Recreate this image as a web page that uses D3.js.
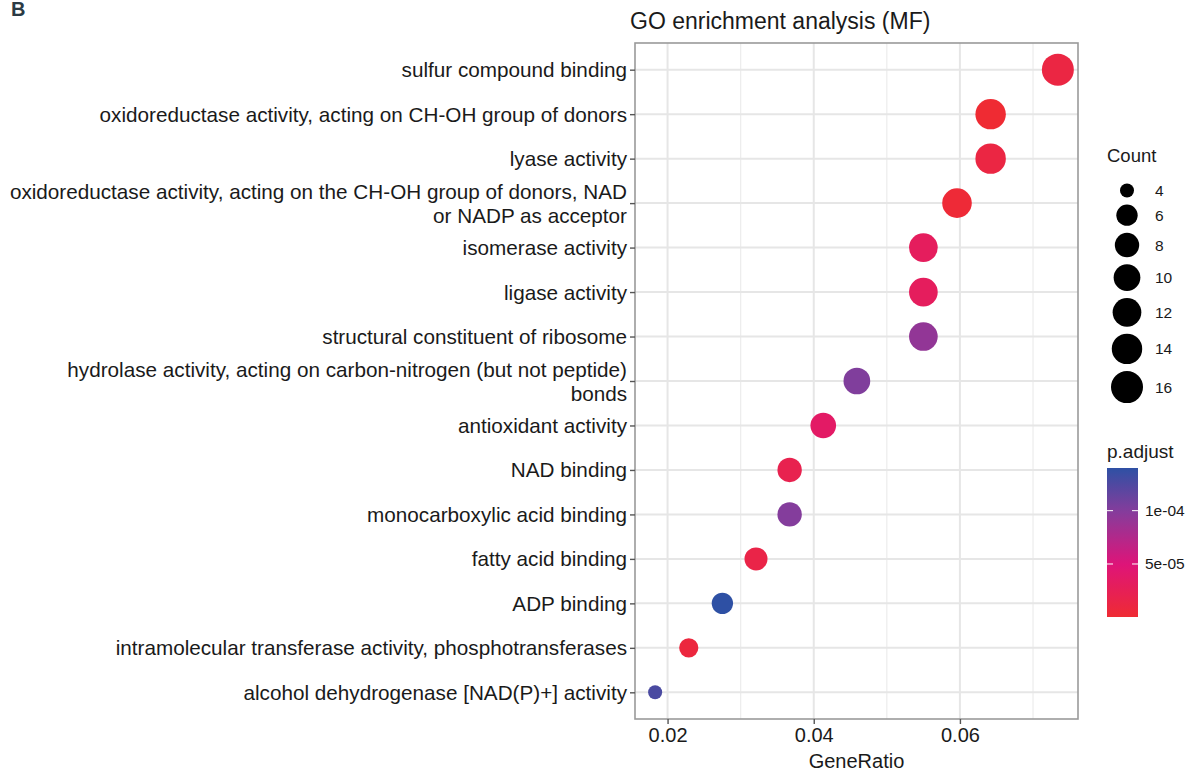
<!DOCTYPE html>
<html>
<head>
<meta charset="utf-8">
<script src="https://cdn.jsdelivr.net/npm/d3@7"></script>
<style>
  body { margin: 0; background: #fff; }
  text { font-family: "Liberation Sans", Arial, sans-serif; }
</style>
</head>
<body>
<svg id="chart" width="1194" height="773"></svg>
<script>
const terms = [
  'sulfur compound binding',
  'oxidoreductase activity, acting on CH-OH group of donors',
  'lyase activity',
  'oxidoreductase activity, acting on the CH-OH group of donors, NAD\nor NADP as acceptor',
  'isomerase activity',
  'ligase activity',
  'structural constituent of ribosome',
  'hydrolase activity, acting on carbon-nitrogen (but not peptide)\nbonds',
  'antioxidant activity',
  'NAD binding',
  'monocarboxylic acid binding',
  'fatty acid binding',
  'ADP binding',
  'intramolecular transferase activity, phosphotransferases',
  'alcohol dehydrogenase [NAD(P)+] activity'
];
const geneRatio = [0.0734, 0.0642, 0.0642, 0.0596, 0.0550, 0.0550, 0.0550, 0.0459, 0.0413, 0.0367, 0.0367, 0.0321, 0.0275, 0.0229, 0.0183];
const counts = [16, 14, 14, 13, 12, 12, 12, 10, 9, 8, 8, 7, 6, 5, 4];
const pAdjust = [1.2e-5, 3e-7, 1.2e-5, 3e-6, 3e-5, 3e-5, 9.2e-5, 1.02e-4, 3.6e-5, 2e-5, 1.0e-4, 1.5e-5, 1.4e-4, 8e-6, 1.27e-4];

const xTicks = [0.02, 0.04, 0.06];
const xMinor = [0.03, 0.05, 0.07];
const countBreaks = [4, 6, 8, 10, 12, 14, 16];
const pBreaks = [5e-5, 1e-4];
const pLabels = ['5e-05', '1e-04'];

const svg = d3.select('#chart');
const panel = {left: 635, right: 1078, top: 43, bottom: 719};

// panel label
svg.append('text')
  .attr('x', 11).attr('y', 16)
  .style('font-size', '20px').style('font-weight', 'bold')
  .style('fill', '#2b3a44')
  .text('B');

// scales
const xExt = d3.extent(geneRatio);
const xPad = (xExt[1] - xExt[0]) * 0.05;
const x = d3.scaleLinear()
  .domain([xExt[0] - xPad, xExt[1] + xPad])
  .range([panel.left, panel.right]);

const y = d3.scalePoint()
  .domain(terms)
  .range([panel.top, panel.bottom])
  .padding(0.6);

const sizeT = d3.scaleLinear().domain([4, 16]).range([0, 1]);
const rLin = d3.scaleLinear().domain([0, 1]).range([7, 16]);
const r = c => rLin(Math.sqrt(sizeT(c)));

const pDomain = [d3.min(pAdjust), d3.max(pAdjust)];
const color = d3.scaleLinear()
  .domain([pDomain[0], 5e-5, 1e-4, pDomain[1]])
  .range(['#ef2b33', '#de1479', '#843d9c', '#2e50a4']);

// grid
const grid = svg.append('g');
grid.selectAll('.minor')
  .data(xMinor)
  .enter().append('line')
  .attr('x1', d => x(d)).attr('x2', d => x(d))
  .attr('y1', panel.top).attr('y2', panel.bottom)
  .attr('stroke', '#ececec').attr('stroke-width', 1.2);
grid.selectAll('.majorx')
  .data(xTicks)
  .enter().append('line')
  .attr('x1', d => x(d)).attr('x2', d => x(d))
  .attr('y1', panel.top).attr('y2', panel.bottom)
  .attr('stroke', '#e6e6e6').attr('stroke-width', 2);
grid.selectAll('.majory')
  .data(terms)
  .enter().append('line')
  .attr('x1', panel.left).attr('x2', panel.right)
  .attr('y1', d => y(d)).attr('y2', d => y(d))
  .attr('stroke', '#e6e6e6').attr('stroke-width', 2);

// points
svg.append('g')
  .selectAll('circle')
  .data(terms)
  .enter().append('circle')
  .attr('cx', (d, i) => x(geneRatio[i]))
  .attr('cy', d => y(d))
  .attr('r', (d, i) => r(counts[i]))
  .attr('fill', (d, i) => color(pAdjust[i]));

// border
svg.append('rect')
  .attr('x', panel.left).attr('y', panel.top)
  .attr('width', panel.right - panel.left)
  .attr('height', panel.bottom - panel.top)
  .attr('fill', 'none')
  .attr('stroke', '#9a9a9a').attr('stroke-width', 1.6);

// x axis
const xAxis = svg.append('g')
  .attr('transform', 'translate(0,' + panel.bottom + ')')
  .call(d3.axisBottom(x).tickValues(xTicks).tickFormat(d3.format('.2f')).tickSize(5).tickPadding(4));
xAxis.select('.domain').remove();
xAxis.selectAll('line').attr('stroke', '#555').attr('stroke-width', 1.4);
xAxis.selectAll('text')
  .style('font-size', '20px').style('fill', '#1a1a1a')
  .attr('font-family', null);

svg.append('text')
  .attr('x', (panel.left + panel.right) / 2)
  .attr('y', 768)
  .attr('text-anchor', 'middle')
  .style('font-size', '20px').style('fill', '#1a1a1a')
  .text('GeneRatio');

// y axis
const yAxis = svg.append('g')
  .attr('transform', 'translate(' + panel.left + ',0)')
  .call(d3.axisLeft(y).tickSize(5).tickPadding(4).tickFormat(''));
yAxis.select('.domain').remove();
yAxis.selectAll('line').attr('stroke', '#555').attr('stroke-width', 1.4);
yAxis.selectAll('.tick').each(function(d) {
  const lines = d.split('\n');
  const t = d3.select(this).select('text')
    .attr('x', -8).attr('dy', null)
    .attr('font-family', null).attr('font-size', null)
    .style('font-size', '20.7px').style('fill', '#1a1a1a');
  const lh = 24;
  lines.forEach((ln, k) => {
    t.append('tspan')
      .attr('x', -8)
      .attr('y', (k - (lines.length - 1) / 2) * lh + 7)
      .text(ln);
  });
});

// title
svg.append('text')
  .attr('x', 630).attr('y', 29)
  .style('font-size', '23px').style('fill', '#1a1a1a')
  .text('GO enrichment analysis (MF)');

// size legend
const sizeLeg = svg.append('g');
sizeLeg.append('text')
  .attr('x', 1107).attr('y', 162)
  .style('font-size', '18.5px').style('fill', '#1a1a1a')
  .text('Count');
let cy = 180;
countBreaks.forEach((c, i) => {
  const h = 2 * r(c) + 7;
  if (i === 0) cy = 180 + h / 2 - 0;
  const g = sizeLeg.append('g');
  g.append('circle')
    .attr('cx', 1127).attr('cy', cy)
    .attr('r', r(c)).attr('fill', '#000');
  g.append('text')
    .attr('x', 1155).attr('y', cy + 5.5)
    .style('font-size', '15.5px').style('fill', '#1a1a1a')
    .text(c);
  if (i < countBreaks.length - 1) cy += h / 2 + (2 * r(countBreaks[i + 1]) + 7) / 2;
});

// colorbar
const bar = {x: 1107, y: 468, w: 31, h: 149};
const defs = svg.append('defs');
const grad = defs.append('linearGradient')
  .attr('id', 'pgrad')
  .attr('x1', '0%').attr('y1', '100%')
  .attr('x2', '0%').attr('y2', '0%');
d3.range(0, 1.0001, 0.05).forEach(t => {
  const v = pDomain[0] + t * (pDomain[1] - pDomain[0]);
  grad.append('stop')
    .attr('offset', (t * 100) + '%')
    .attr('stop-color', color(v));
});
const pScale = d3.scaleLinear().domain(pDomain).range([bar.y + bar.h, bar.y]);

svg.append('text')
  .attr('x', 1107).attr('y', 458)
  .style('font-size', '19px').style('fill', '#1a1a1a')
  .text('p.adjust');
svg.append('rect')
  .attr('x', bar.x).attr('y', bar.y)
  .attr('width', bar.w).attr('height', bar.h)
  .attr('fill', 'url(#pgrad)');
pBreaks.forEach((p, i) => {
  const yy = pScale(p);
  svg.append('line')
    .attr('x1', bar.x).attr('x2', bar.x + 6)
    .attr('y1', yy).attr('y2', yy)
    .attr('stroke', '#fff').attr('stroke-width', 1);
  svg.append('line')
    .attr('x1', bar.x + bar.w - 6).attr('x2', bar.x + bar.w)
    .attr('y1', yy).attr('y2', yy)
    .attr('stroke', '#fff').attr('stroke-width', 1);
  svg.append('text')
    .attr('x', 1145).attr('y', yy + 5.5)
    .style('font-size', '15.5px').style('fill', '#1a1a1a')
    .text(pLabels[i]);
});
</script>
</body>
</html>
